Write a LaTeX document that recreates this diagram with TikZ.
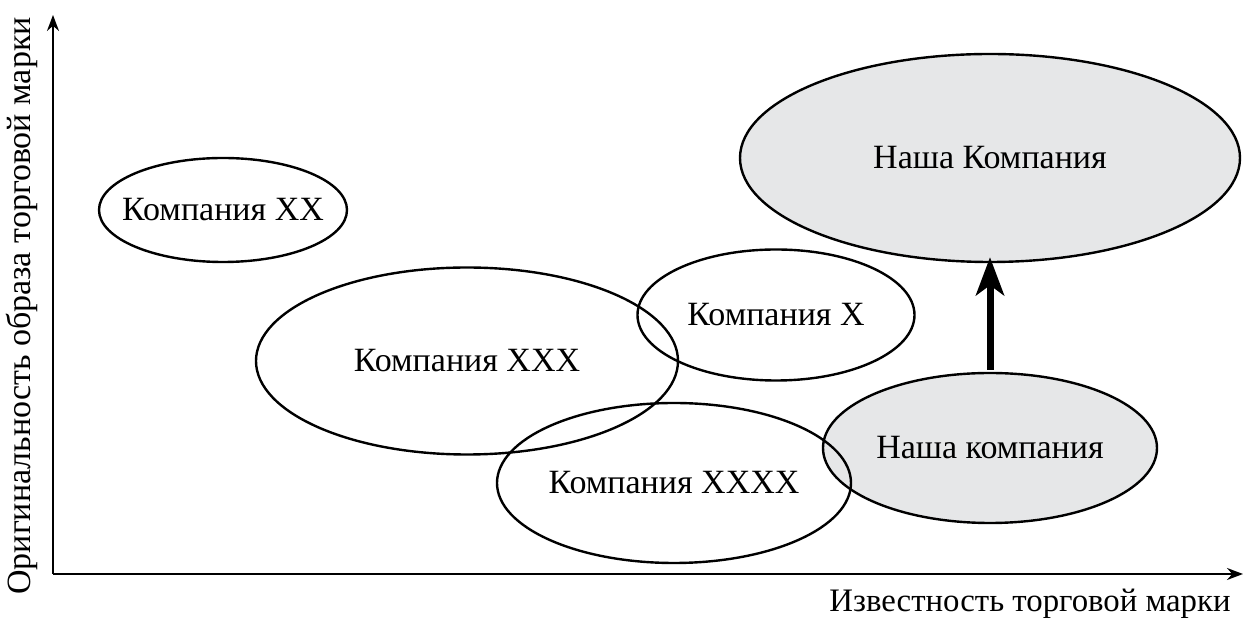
\documentclass[tikz,border=0pt]{standalone}
\usepackage{fontspec}
\setmainfont{Liberation Serif}
\usepackage{tikz}
\usetikzlibrary{shapes.geometric,arrows.meta}

\definecolor{brandgray}{HTML}{E6E7E8}

\begin{document}
\begin{tikzpicture}[
		x=0.5pt, y=-0.5pt,
		every node/.style={font=\fontsize{17}{20}\selectfont},
		firm/.style={ellipse, draw, line width=1.2pt, inner sep=0pt},
		ours/.style={firm, fill=brandgray}
	]
  \useasboundingbox (0,0) rectangle (1244,619);
  % axes
  \coordinate (origin) at (53,574);
  \coordinate (ytop) at (53,15);
  \coordinate (xend) at (1243,574);
  \draw [line width=1pt, -{Stealth[length=8pt, width=6pt]}] (origin) -- (ytop);
  \draw [line width=1pt, -{Stealth[length=8pt, width=6pt]}] (origin) -- (xend);
  \node (y_label) [rotate=90] at (22,306) {Оригинальность образа торговой марки};
  \node (x_label) [font=\fontsize{16.4}{20}\selectfont] at (1030,604) {Известность торговой марки};
  % our company, before and after
  \node (ours_now) [ours, minimum width=167pt, minimum height=75pt, label=center:{Наша компания}] at (990,448) {};
  \node (ours_goal) [ours, minimum width=250pt, minimum height=104pt, label=center:{Наша Компания}] at (990,158) {};
  % competitors
  \node (c_xx) [firm, minimum width=124pt, minimum height=52pt, label=center:{Компания XX}] at (223,210) {};
  \node (c_xxx) [firm, minimum width=211pt, minimum height=93.5pt, label=center:{Компания XXX}] at (467,361) {};
  \node (c_x) [firm, minimum width=138.5pt, minimum height=65.5pt, label=center:{Компания X}] at (776,315) {};
  \node (c_xxxx) [firm, minimum width=177pt, minimum height=80pt, label=center:{Компания XXXX}] at (674,483) {};
  \draw [line width=3.5pt, -{Stealth[length=19pt, width=14pt, inset=5pt]}, shorten <=1pt, shorten >=-3pt] (ours_now) -- (ours_goal);
\end{tikzpicture}
\end{document}
